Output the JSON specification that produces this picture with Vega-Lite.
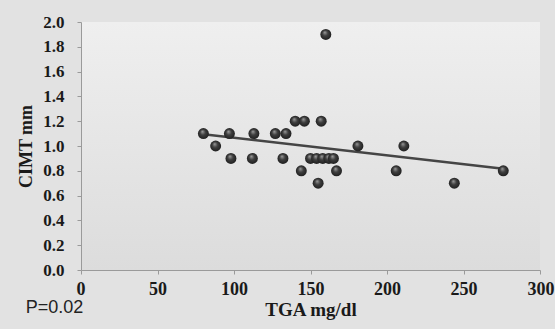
{
  "$schema": "https://vega.github.io/schema/vega-lite/v6.json",
  "width": 459,
  "height": 248,
  "autosize": "none",
  "padding": {"left": 81, "top": 22, "right": 15, "bottom": 59},
  "background": "#e2e2e2",
  "title": {
    "text": "P=0.02",
    "orient": "bottom",
    "anchor": "start",
    "frame": "bounds",
    "font": "Liberation Sans",
    "fontSize": 18,
    "fontWeight": "normal",
    "color": "#222222",
    "offset": -20,
    "dx": 8
  },
  "config": {
    "view": {
      "stroke": null,
      "fill": {
        "gradient": "linear",
        "x1": 0, "y1": 0, "x2": 0, "y2": 1,
        "stops": [
          {"offset": 0, "color": "#efefef"},
          {"offset": 1, "color": "#dcdcdc"}
        ]
      }
    },
    "axis": {
      "labelFont": "Liberation Serif",
      "labelFontWeight": "bold",
      "labelColor": "#1a1a1a",
      "titleFont": "Liberation Serif",
      "titleFontWeight": "bold",
      "titleColor": "#1a1a1a",
      "domainColor": "#9a9a9a",
      "tickColor": "#9a9a9a",
      "grid": false,
      "tickSize": 4
    }
  },
  "data": {
    "values": [
      {"TGA": 80, "CIMT": 1.1},
      {"TGA": 88, "CIMT": 1.0},
      {"TGA": 97, "CIMT": 1.1},
      {"TGA": 98, "CIMT": 0.9},
      {"TGA": 113, "CIMT": 1.1},
      {"TGA": 112, "CIMT": 0.9},
      {"TGA": 127, "CIMT": 1.1},
      {"TGA": 134, "CIMT": 1.1},
      {"TGA": 132, "CIMT": 0.9},
      {"TGA": 140, "CIMT": 1.2},
      {"TGA": 146, "CIMT": 1.2},
      {"TGA": 144, "CIMT": 0.8},
      {"TGA": 150, "CIMT": 0.9},
      {"TGA": 154, "CIMT": 0.9},
      {"TGA": 158, "CIMT": 0.9},
      {"TGA": 162, "CIMT": 0.9},
      {"TGA": 165, "CIMT": 0.9},
      {"TGA": 157, "CIMT": 1.2},
      {"TGA": 160, "CIMT": 1.9},
      {"TGA": 181, "CIMT": 1.0},
      {"TGA": 211, "CIMT": 1.0},
      {"TGA": 155, "CIMT": 0.7},
      {"TGA": 167, "CIMT": 0.8},
      {"TGA": 206, "CIMT": 0.8},
      {"TGA": 244, "CIMT": 0.7},
      {"TGA": 276, "CIMT": 0.8}
    ]
  },
  "encoding": {
    "x": {
      "field": "TGA",
      "type": "quantitative",
      "scale": {"domain": [0, 300], "nice": false},
      "axis": {
        "values": [0, 50, 100, 150, 200, 250, 300],
        "format": "d",
        "title": "TGA mg/dl",
        "labelFontSize": 18,
        "labelPadding": 6,
        "labelOverlap": false,
        "labelFlush": true,
        "labelFlushOffset": 5,
        "labelOffset": {"condition": {"test": "datum.value == 300", "value": 9}, "value": 0},
        "titleFontSize": 19,
        "titlePadding": 2
      }
    },
    "y": {
      "field": "CIMT",
      "type": "quantitative",
      "scale": {"domain": [0, 2], "nice": false},
      "axis": {
        "values": [0, 0.2, 0.4, 0.6, 0.8, 1.0, 1.2, 1.4, 1.6, 1.8, 2.0],
        "format": ".1f",
        "title": "CIMT mm",
        "labelFontSize": 17,
        "labelPadding": 13,
        "labelOverlap": false,
        "labelFlush": false,
        "labelBound": false,
        "titleFontSize": 18,
        "titlePadding": 7
      }
    }
  },
  "layer": [
    {
      "transform": [{"regression": "CIMT", "on": "TGA"}],
      "mark": {"type": "line", "color": "#454545", "strokeWidth": 2.5}
    },
    {
      "mark": {
        "type": "point",
        "filled": true,
        "size": 120,
        "opacity": 1,
        "color": {
          "gradient": "radial",
          "x1": 0.4, "y1": 0.3, "r1": 0,
          "x2": 0.5, "y2": 0.5, "r2": 0.55,
          "stops": [
            {"offset": 0, "color": "#a0a0a0"},
            {"offset": 0.45, "color": "#3e3e3e"},
            {"offset": 1, "color": "#1c1c1c"}
          ]
        }
      }
    }
  ]
}
